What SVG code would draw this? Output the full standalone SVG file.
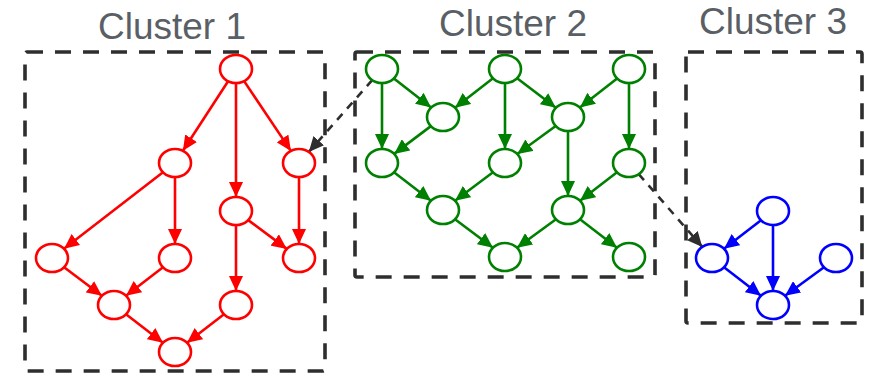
<svg xmlns="http://www.w3.org/2000/svg" width="873" height="375" viewBox="0 0 873 375">
<style>
.title{font-family:"Liberation Sans",Arial,sans-serif;font-size:37px;fill:#5a5f66;text-anchor:middle}
.box{fill:none;stroke:#2e2e2e;stroke-width:3.6;stroke-dasharray:16 12}
.n{fill:#fff;stroke-width:2.6}
.red .n{stroke:#ff0000}
.green .n{stroke:#008000}
.blue .n{stroke:#0000ff}
.er{stroke:#ff0000;stroke-width:2.6;marker-end:url(#ar)}
.eg{stroke:#008000;stroke-width:2.6;marker-end:url(#ag)}
.eb{stroke:#0000ff;stroke-width:2.6;marker-end:url(#ab)}
.ex{stroke:#2e2e2e;stroke-width:2.6;stroke-dasharray:8 7;marker-end:url(#ak)}
</style>
<defs>
<marker id="ar" markerUnits="userSpaceOnUse" markerWidth="16" markerHeight="14" refX="15" refY="7" orient="auto"><path d="M0,0 L15,7 L0,14 z" fill="#ff0000"/></marker>
<marker id="ag" markerUnits="userSpaceOnUse" markerWidth="16" markerHeight="14" refX="15" refY="7" orient="auto"><path d="M0,0 L15,7 L0,14 z" fill="#008000"/></marker>
<marker id="ab" markerUnits="userSpaceOnUse" markerWidth="16" markerHeight="14" refX="15" refY="7" orient="auto"><path d="M0,0 L15,7 L0,14 z" fill="#0000ff"/></marker>
<marker id="ak" markerUnits="userSpaceOnUse" markerWidth="16" markerHeight="14" refX="15" refY="7" orient="auto"><path d="M0,0 L15,7 L0,14 z" fill="#2e2e2e"/></marker>
</defs>
<rect width="873" height="375" fill="#fff"/>

<g id="cluster1">
<rect class="box" x="25" y="52" width="300" height="319" rx="2"/>
<text class="title" x="172" y="39">Cluster 1</text>
</g>
<g id="cluster2">
<rect class="box" x="355" y="52" width="300" height="225" rx="2"/>
<text class="title" x="513" y="36">Cluster 2</text>
</g>
<g id="cluster3">
<rect class="box" x="686" y="52" width="176" height="271" rx="2"/>
<text class="title" x="773" y="34">Cluster 3</text>
</g>

<g id="connectors">
<line class="er" x1="228.1" y1="81.2" x2="182.9" y2="150.8"/>
<line class="er" x1="236" y1="83" x2="236" y2="197"/>
<line class="er" x1="244.1" y1="81.1" x2="290.9" y2="150.9"/>
<line class="er" x1="163" y1="172.3" x2="64" y2="248.7"/>
<line class="er" x1="175" y1="177" x2="175" y2="244"/>
<line class="er" x1="248.2" y1="220.1" x2="286.8" y2="248.9"/>
<line class="er" x1="236" y1="225" x2="236" y2="291"/>
<line class="er" x1="299" y1="177" x2="299" y2="244"/>
<line class="er" x1="64.1" y1="267.2" x2="101.9" y2="295.8"/>
<line class="er" x1="163" y1="267.3" x2="126" y2="295.7"/>
<line class="er" x1="126" y1="314.3" x2="163" y2="342.7"/>
<line class="er" x1="224" y1="314.3" x2="187" y2="342.7"/>

<line class="eg" x1="393.9" y1="78.4" x2="431.1" y2="107.6"/>
<line class="eg" x1="382" y1="83" x2="382" y2="149"/>
<line class="eg" x1="493" y1="78.3" x2="455" y2="107.7"/>
<line class="eg" x1="505" y1="83" x2="505" y2="149"/>
<line class="eg" x1="517.1" y1="78.2" x2="555.9" y2="107.8"/>
<line class="eg" x1="617.1" y1="78.4" x2="579.9" y2="107.6"/>
<line class="eg" x1="629" y1="83" x2="629" y2="149"/>
<line class="eg" x1="430.9" y1="126.1" x2="394.1" y2="153.9"/>
<line class="eg" x1="555.7" y1="126" x2="517.3" y2="154"/>
<line class="eg" x1="568" y1="131" x2="568" y2="196"/>
<line class="eg" x1="617" y1="172.3" x2="580" y2="200.7"/>
<line class="eg" x1="394" y1="172.3" x2="431" y2="200.7"/>
<line class="eg" x1="493" y1="172.3" x2="455" y2="200.7"/>
<line class="eg" x1="455" y1="219.3" x2="493" y2="247.7"/>
<line class="eg" x1="556" y1="219.3" x2="517" y2="247.7"/>
<line class="eg" x1="580" y1="219.3" x2="617" y2="247.7"/>

<line class="eb" x1="761" y1="220.3" x2="724" y2="248.7"/>
<line class="eb" x1="773" y1="225" x2="773" y2="291"/>
<line class="eb" x1="724" y1="267.3" x2="761" y2="295.7"/>
<line class="eb" x1="824" y1="267.3" x2="785" y2="295.7"/>

<line class="ex" x1="372.2" y1="80.1" x2="308.8" y2="151.9"/>
<line class="ex" x1="638.7" y1="174.1" x2="702.3" y2="246.9"/>
</g>

<g class="red">
<g id="n1a"><ellipse class="n" cx="236" cy="69" rx="16" ry="14"/></g>
<g id="n1b"><ellipse class="n" cx="175" cy="163" rx="16" ry="14"/></g>
<g id="n1c"><ellipse class="n" cx="299" cy="163" rx="16" ry="14"/></g>
<g id="n1d"><ellipse class="n" cx="236" cy="211" rx="16" ry="14"/></g>
<g id="n1e"><ellipse class="n" cx="52" cy="258" rx="16" ry="14"/></g>
<g id="n1f"><ellipse class="n" cx="175" cy="258" rx="16" ry="14"/></g>
<g id="n1g"><ellipse class="n" cx="299" cy="258" rx="16" ry="14"/></g>
<g id="n1h"><ellipse class="n" cx="114" cy="305" rx="16" ry="14"/></g>
<g id="n1i"><ellipse class="n" cx="236" cy="305" rx="16" ry="14"/></g>
<g id="n1j"><ellipse class="n" cx="175" cy="352" rx="16" ry="14"/></g>
</g>
<g class="green">
<g id="n2a"><ellipse class="n" cx="382" cy="69" rx="16" ry="14"/></g>
<g id="n2b"><ellipse class="n" cx="505" cy="69" rx="16" ry="14"/></g>
<g id="n2c"><ellipse class="n" cx="629" cy="69" rx="16" ry="14"/></g>
<g id="n2d"><ellipse class="n" cx="443" cy="117" rx="16" ry="14"/></g>
<g id="n2e"><ellipse class="n" cx="568" cy="117" rx="16" ry="14"/></g>
<g id="n2f"><ellipse class="n" cx="382" cy="163" rx="16" ry="14"/></g>
<g id="n2g"><ellipse class="n" cx="505" cy="163" rx="16" ry="14"/></g>
<g id="n2h"><ellipse class="n" cx="629" cy="163" rx="16" ry="14"/></g>
<g id="n2i"><ellipse class="n" cx="443" cy="210" rx="16" ry="14"/></g>
<g id="n2j"><ellipse class="n" cx="568" cy="210" rx="16" ry="14"/></g>
<g id="n2k"><ellipse class="n" cx="505" cy="257" rx="16" ry="14"/></g>
<g id="n2l"><ellipse class="n" cx="629" cy="257" rx="16" ry="14"/></g>
</g>
<g class="blue">
<g id="n3a"><ellipse class="n" cx="773" cy="211" rx="16" ry="14"/></g>
<g id="n3b"><ellipse class="n" cx="712" cy="258" rx="16" ry="14"/></g>
<g id="n3c"><ellipse class="n" cx="836" cy="258" rx="16" ry="14"/></g>
<g id="n3d"><ellipse class="n" cx="773" cy="305" rx="16" ry="14"/></g>
</g>
</svg>
